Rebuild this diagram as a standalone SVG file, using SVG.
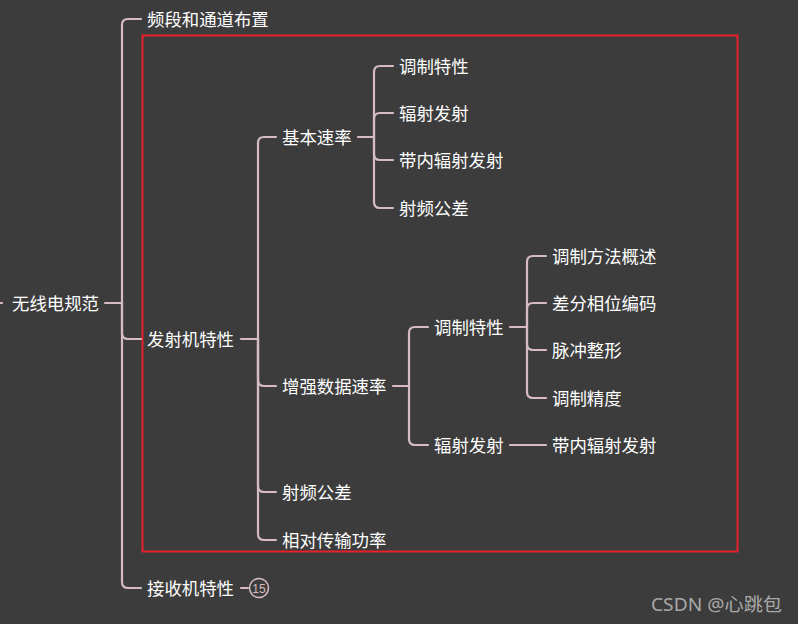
<svg xmlns="http://www.w3.org/2000/svg" width="798" height="624" viewBox="0 0 798 624">
<style>
.bg{fill:#3c3c3c}
.c{fill:none;stroke:#d6bcc2;stroke-width:2.2;stroke-linecap:round}
.t{font-family:"Microsoft YaHei","Noto Sans CJK SC","Noto Sans",sans-serif;font-size:17.4px;fill:#ffffff}
.wm{font-family:"Noto Sans","Noto Sans CJK SC",sans-serif;font-size:18px;fill:#a9a9a9}
.badge{fill:none;stroke:#d6bcc2;stroke-width:1.5}
.bt{font-family:"Liberation Sans",sans-serif;font-size:12px;fill:#d6bcc2;text-anchor:middle}
</style>
<rect class="bg" x="0" y="0" width="798" height="624"/>
<rect x="142.5" y="35.5" width="595" height="516" fill="none" stroke="#e8202a" stroke-width="2"/>
<g id="connectors">
<path class="c" d="M0 303 H2"/>
<path class="c" d="M105 303 H122"/>
<path class="c" d="M122 303 V25 Q122 19 128 19 H141"/>
<path class="c" d="M122 303 V333 Q122 339 128 339 H141"/>
<path class="c" d="M122 303 V582 Q122 588 128 588 H141"/>
<path class="c" d="M241 339 H258"/>
<path class="c" d="M258 339 V143 Q258 137 264 137 H276"/>
<path class="c" d="M258 339 V380 Q258 386 264 386 H276"/>
<path class="c" d="M258 339 V486 Q258 492 264 492 H276"/>
<path class="c" d="M258 339 V534 Q258 540 264 540 H276"/>
<path class="c" d="M358 137 H374"/>
<path class="c" d="M374 137 V72 Q374 66 380 66 H393"/>
<path class="c" d="M374 137 V119 Q374 113 380 113 H393"/>
<path class="c" d="M374 137 V154 Q374 160 380 160 H393"/>
<path class="c" d="M374 137 V202 Q374 208 380 208 H393"/>
<path class="c" d="M393 386 H409"/>
<path class="c" d="M409 386 V333 Q409 327 415 327 H428"/>
<path class="c" d="M409 386 V439 Q409 445 415 445 H428"/>
<path class="c" d="M510 327 H527"/>
<path class="c" d="M527 327 V262 Q527 256 533 256 H546"/>
<path class="c" d="M527 327 V309 Q527 303 533 303 H546"/>
<path class="c" d="M527 327 V344 Q527 350 533 350 H546"/>
<path class="c" d="M527 327 V392 Q527 398 533 398 H546"/>
<path class="c" d="M510 445 H546"/>
<path class="c" d="M241 588 H248"/>
</g>
<g id="root"><text class="t" x="12" y="310">无线电规范</text></g>
<g id="n-band"><text class="t" x="147" y="26">频段和通道布置</text></g>
<g id="n-tx"><text class="t" x="147" y="346">发射机特性</text></g>
<g id="n-rx"><text class="t" x="147" y="595">接收机特性</text>
<circle class="badge" cx="259" cy="588" r="9.5"/><text class="bt" x="259" y="592.5">15</text></g>
<g id="n-basic"><text class="t" x="282" y="144">基本速率</text></g>
<g id="n-basic-mod"><text class="t" x="399" y="73">调制特性</text></g>
<g id="n-basic-rad"><text class="t" x="399" y="120">辐射发射</text></g>
<g id="n-basic-inband"><text class="t" x="399" y="167">带内辐射发射</text></g>
<g id="n-basic-rf"><text class="t" x="399" y="215">射频公差</text></g>
<g id="n-edr"><text class="t" x="282" y="393">增强数据速率</text></g>
<g id="n-edr-mod"><text class="t" x="434" y="334">调制特性</text></g>
<g id="n-edr-mod-1"><text class="t" x="552" y="263">调制方法概述</text></g>
<g id="n-edr-mod-2"><text class="t" x="552" y="310">差分相位编码</text></g>
<g id="n-edr-mod-3"><text class="t" x="552" y="357">脉冲整形</text></g>
<g id="n-edr-mod-4"><text class="t" x="552" y="405">调制精度</text></g>
<g id="n-edr-rad"><text class="t" x="434" y="452">辐射发射</text></g>
<g id="n-edr-inband"><text class="t" x="552" y="452">带内辐射发射</text></g>
<g id="n-rf"><text class="t" x="282" y="499">射频公差</text></g>
<g id="n-power"><text class="t" x="282" y="547">相对传输功率</text></g>
<text class="wm" x="651" y="611" textLength="131" lengthAdjust="spacingAndGlyphs">CSDN @心跳包</text>
</svg>
